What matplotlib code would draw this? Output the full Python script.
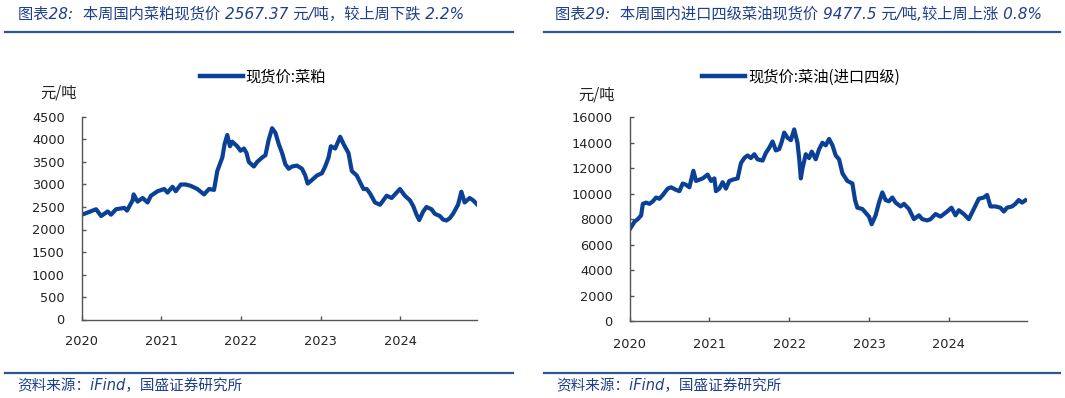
import matplotlib
matplotlib.use("Agg")
import matplotlib.pyplot as plt
from matplotlib.lines import Line2D

# ---------------- data ----------------
meal_t = [2020.008, 2020.183, 2020.246, 2020.329, 2020.371, 2020.433, 2020.538, 2020.571,
          2020.642, 2020.654, 2020.704, 2020.767, 2020.829, 2020.871, 2020.954, 2021.038,
          2021.079, 2021.142, 2021.183, 2021.246, 2021.308, 2021.371, 2021.454, 2021.538,
          2021.600, 2021.663, 2021.704, 2021.767, 2021.796, 2021.829, 2021.863, 2021.892,
          2021.954, 2021.996, 2022.038, 2022.071, 2022.100, 2022.163, 2022.204, 2022.267,
          2022.308, 2022.350, 2022.392, 2022.433, 2022.475, 2022.517, 2022.558, 2022.600,
          2022.642, 2022.704, 2022.767, 2022.808, 2022.838, 2022.892, 2022.954, 2023.017,
          2023.058, 2023.100, 2023.129, 2023.183, 2023.246, 2023.288, 2023.350, 2023.392,
          2023.454, 2023.496, 2023.538, 2023.579, 2023.621, 2023.683, 2023.746, 2023.788,
          2023.829, 2023.892, 2023.996, 2024.058, 2024.121, 2024.163, 2024.204, 2024.238,
          2024.288, 2024.329, 2024.392, 2024.433, 2024.496, 2024.538, 2024.579, 2024.621,
          2024.663, 2024.725, 2024.767, 2024.808, 2024.871, 2024.913, 2024.960]
meal_v = [2330, 2450, 2300, 2400, 2330, 2450, 2480, 2420,
          2650, 2780, 2620, 2700, 2600, 2750, 2850, 2900,
          2820, 2950, 2850, 3000, 3000, 2970, 2900, 2780,
          2900, 2880, 3300, 3600, 3900, 4100, 3850, 3950,
          3850, 3750, 3800, 3700, 3500, 3400, 3500, 3600,
          3650, 4000, 4250, 4150, 3900, 3700, 3450, 3350,
          3400, 3420, 3350, 3200, 3020, 3100, 3200, 3250,
          3400, 3600, 3850, 3800, 4060, 3900, 3700, 3300,
          3200, 3050, 2900, 2900, 2800, 2600, 2550, 2650,
          2750, 2700, 2900, 2750, 2650, 2520, 2330, 2210,
          2400, 2500, 2450, 2350, 2300, 2220, 2200, 2250,
          2350, 2550, 2840, 2600, 2700, 2650, 2567]

oil_t = [2020.013, 2020.063, 2020.104, 2020.146, 2020.167, 2020.208, 2020.250, 2020.292,
         2020.333, 2020.375, 2020.417, 2020.479, 2020.521, 2020.583, 2020.625, 2020.667,
         2020.708, 2020.750, 2020.800, 2020.833, 2020.875, 2020.917, 2020.979, 2021.021,
         2021.063, 2021.083, 2021.125, 2021.167, 2021.208, 2021.250, 2021.292, 2021.354,
         2021.396, 2021.438, 2021.479, 2021.521, 2021.563, 2021.604, 2021.667, 2021.708,
         2021.750, 2021.792, 2021.833, 2021.875, 2021.908, 2021.938, 2021.979, 2022.021,
         2022.063, 2022.104, 2022.125, 2022.146, 2022.167, 2022.208, 2022.250, 2022.283,
         2022.333, 2022.375, 2022.417, 2022.458, 2022.500, 2022.542, 2022.583, 2022.625,
         2022.667, 2022.729, 2022.792, 2022.825, 2022.854, 2022.917, 2022.958, 2023.000,
         2023.033, 2023.083, 2023.125, 2023.167, 2023.208, 2023.250, 2023.292, 2023.333,
         2023.396, 2023.438, 2023.500, 2023.563, 2023.625, 2023.667, 2023.729, 2023.771,
         2023.833, 2023.896, 2023.979, 2024.033, 2024.083, 2024.125, 2024.188, 2024.250,
         2024.313, 2024.375, 2024.438, 2024.479, 2024.521, 2024.583, 2024.646, 2024.688,
         2024.729, 2024.792, 2024.833, 2024.875, 2024.917, 2024.958]
oil_v = [7300, 7800, 8000, 8300, 9200, 9300, 9200, 9400,
         9700, 9600, 9900, 10400, 10500, 10300, 10200, 10800,
         10700, 10500, 11800, 11000, 11100, 11200, 11500, 11000,
         11200, 10200, 10400, 10900, 10400, 11000, 11100, 11200,
         12400, 12800, 13000, 12800, 13100, 12700, 12600, 13200,
         13600, 14100, 13400, 13500, 14100, 14800, 14400, 14200,
         15050, 14000, 12800, 11200, 12000, 13100, 12800, 13300,
         12700, 13500, 14000, 13800, 14300, 13800, 13000, 12700,
         11600, 11000, 10800, 9500, 8900, 8800, 8500, 8200,
         7600, 8300, 9300, 10100, 9500, 9400, 9700, 9300,
         9000, 9200, 8800, 8000, 8300, 8000, 7900, 8000,
         8400, 8200, 8600, 8900, 8300, 8700, 8400, 8000,
         8800, 9600, 9700, 9900, 9000, 9000, 8900, 8600,
         8900, 9000, 9200, 9500, 9300, 9477]

years = [2020, 2021, 2022, 2023, 2024]
meal_yticks = [0, 500, 1000, 1500, 2000, 2500, 3000, 3500, 4000, 4500]
oil_yticks = [0, 2000, 4000, 6000, 8000, 10000, 12000, 14000, 16000]

title_left = "图表28:  本周国内菜粕现货价 2567.37 元/吨，较上周下跌 2.2%"
title_right = "图表29:  本周国内进口四级菜油现货价 9477.5 元/吨,较上周上涨 0.8%"
legend_left = "现货价:菜粕"
legend_right = "现货价:菜油(进口四级)"
unit = "元/吨"
source = "资料来源：iFind，国盛证券研究所"

# ---------------- style ----------------
W, H = 1065, 398
LINE_C = "#0A4096"
TITLE_C = "#1F3F8C"
RULE_C = "#2E5597"
TICK_C = "#222222"
CJK = ["Noto Sans CJK SC", "DejaVu Sans"]
TITLEF = ["DejaVu Sans", "Noto Sans CJK SC"]

fig = plt.figure(figsize=(W / 100, H / 100), dpi=100)


def fx(px):
    return px / W


def fy(py):
    return 1 - py / H


def panel(x0, x1, y0, y1, t, v, yticks, ymax, xend, ypad, xpad):
    ax = fig.add_axes([fx(x0), fy(y1), fx(x1 - x0), (y1 - y0) / H])
    ax.plot(t, v, color=LINE_C, lw=3.0, solid_joinstyle="round")
    ax.set_xlim(2020, xend)
    ax.set_ylim(0, ymax)
    ax.set_yticks(yticks)
    ax.set_xticks(years)
    ax.set_xticklabels([str(y) for y in years])
    for s in ["top", "right"]:
        ax.spines[s].set_visible(False)
    for s in ["left", "bottom"]:
        ax.spines[s].set_color("#555555")
        ax.spines[s].set_linewidth(1.0)
    ax.tick_params(axis="y", direction="in", length=2.6, width=1, color="#555555",
                   labelsize=9.3, labelcolor=TICK_C, pad=ypad)
    ax.tick_params(axis="x", direction="in", length=3, width=1, color="#555555",
                   labelsize=9.3, labelcolor=TICK_C, pad=xpad)
    for lab in ax.get_xticklabels() + ax.get_yticklabels():
        lab.set_family("DejaVu Sans")
    ax.patch.set_alpha(0)
    return ax


ax1 = panel(81.5, 477, 117, 319.5, meal_t, meal_v, meal_yticks, 4500, 2024.963, 12, 11)
ax2 = panel(629.5, 1027, 117.3, 321, oil_t, oil_v, oil_yticks, 16000, 2024.979, 12, 12)

# legends
for ax, lab, cx in [(ax1, legend_left, 263), (ax2, legend_right, 801)]:
    h = Line2D([], [], color=LINE_C, lw=3.2)
    ax.legend([h], [lab], loc="center", bbox_to_anchor=(fx(cx), fy(77)),
              bbox_transform=fig.transFigure, frameon=False,
              prop={"family": CJK, "size": 11}, handlelength=2.8,
              handletextpad=0.2, borderaxespad=0, borderpad=0)

# unit labels
fig.text(fx(40), fy(93), unit, family=CJK, size=11, color=TICK_C, va="center", ha="left")
fig.text(fx(578), fy(95), unit, family=CJK, size=11, color=TICK_C, va="center", ha="left")

# titles and rules
fig.text(fx(18), fy(14), title_left, family=TITLEF, style="italic", size=11,
         color=TITLE_C, va="center", ha="left")
fig.text(fx(555), fy(14), title_right, family=TITLEF, style="italic", size=11,
         color=TITLE_C, va="center", ha="left")
for (a, b) in [(5, 513), (544, 1060)]:
    for yy in (32, 373):
        fig.add_artist(Line2D([fx(a), fx(b)], [fy(yy), fy(yy)], color=RULE_C, lw=1.6,
                              transform=fig.transFigure))
fig.text(fx(17), fy(386), source, family=TITLEF, style="italic", size=10.5,
         color=TITLE_C, va="center", ha="left")
fig.text(fx(556), fy(386), source, family=TITLEF, style="italic", size=10.5,
         color=TITLE_C, va="center", ha="left")

fig.savefig("out.png", dpi=100)
